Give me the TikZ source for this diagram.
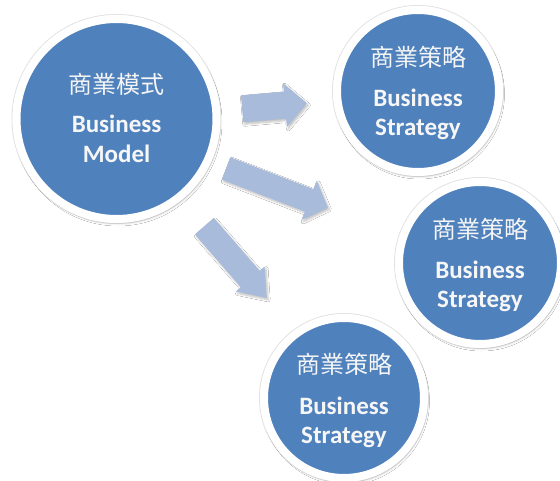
\documentclass[tikz,border=0pt]{standalone}
\usepackage{fontspec}
\setmainfont{Carlito}
\newfontfamily\cjk{Noto Sans CJK TC}
\usetikzlibrary{shadows.blur}
\definecolor{circblue}{RGB}{79,129,189}
\definecolor{arrblue}{RGB}{168,187,219}
\definecolor{txtwhite}{RGB}{246,246,246}
\definecolor{halo}{RGB}{226,226,226}
\tikzset{
  bigcirc/.style={circle, fill=circblue, draw=white, line width=8pt, inner sep=0pt,
    blur shadow={shadow xshift=1.5pt, shadow yshift=-3pt, shadow blur steps=10, shadow opacity=30, shadow blur radius=4pt}},
  haloring/.style={circle, draw=halo, line width=1pt, inner sep=0pt},
  cjklab/.style={text=txtwhite, font=\cjk\fontsize{24}{26}\selectfont, anchor=center, inner sep=0pt},
  enlab/.style={text=txtwhite, font=\bfseries\fontsize{25}{28}\selectfont, anchor=base, inner sep=0pt},
  blockarr/.style={fill=arrblue,
    blur shadow={shadow xshift=1.5pt, shadow yshift=-2pt, shadow blur steps=6, shadow opacity=25, shadow blur radius=2pt}}
}
\newcommand\barrow[4]{% length, shaft, head width, head length
  (-#1/2,-#2/2) -- (#1/2-#4,-#2/2) -- (#1/2-#4,-#3/2) -- (#1/2,0) -- (#1/2-#4,#3/2) -- (#1/2-#4,#2/2) -- (-#1/2,#2/2) -- cycle}
\begin{document}
\begin{tikzpicture}[x=1pt,y=-1pt]
\useasboundingbox[fill=white] (0,0) rectangle (560,481);

% arrows
\begin{scope}[shift={(274.5,106)}, rotate=5]
  \path[blockarr] \barrow{65}{27}{44}{22};
\end{scope}
\begin{scope}[shift={(277,188)}, rotate=-21]
  \path[blockarr] \barrow{109}{24}{42}{20};
\end{scope}
\begin{scope}[shift={(235.5,262)}, rotate=-49]
  \path[blockarr] \barrow{95}{25}{38}{25};
\end{scope}

% halo rings
\node[haloring, minimum size=209pt] (bmh) at (116.5,119) {};
\node[haloring, minimum size=171pt] (s1h) at (418,91) {};
\node[haloring, minimum size=171pt] (s2h) at (480,263) {};
\node[haloring, minimum size=169pt] (s3h) at (344,398) {};

% circles
\node[bigcirc, minimum size=200pt] (bm) at (bmh) {};
\node[bigcirc, minimum size=162pt] (s1) at (s1h) {};
\node[bigcirc, minimum size=162pt] (s2) at (s2h) {};
\node[bigcirc, minimum size=160pt] (s3) at (s3h) {};

% labels
\node[cjklab] (bmz) at ([yshift=35pt]bm.center) {商業模式};
\node[enlab] (bme1) at ([yshift=-14pt]bm.center) {Business};
\node[enlab] (bme2) at ([yshift=-44pt]bm.center) {Model};

\foreach \c in {s1,s2,s3}{
  \node[cjklab] (\c z) at ([yshift=34pt]\c.center) {商業策略};
  \node[enlab] (\c e1) at ([yshift=-16pt]\c.center) {Business};
  \node[enlab] (\c e2) at ([yshift=-45pt]\c.center) {Strategy};
}
\end{tikzpicture}
\end{document}
